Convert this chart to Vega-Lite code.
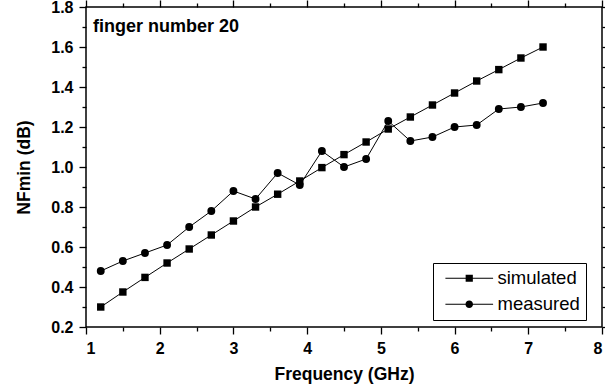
{
  "$schema": "https://vega.github.io/schema/vega-lite/v6.json",
  "width": 516,
  "height": 320,
  "autosize": "none",
  "padding": {"left": 86, "top": 7, "right": 3, "bottom": 63},
  "background": "white",
  "title": {"text": "finger number 20", "anchor": "start", "frame": "group", "orient": "top", "baseline": "alphabetic", "font": "Liberation Sans", "fontWeight": "bold", "fontSize": 18, "color": "black", "offset": 0, "dx": 7, "dy": 51},
  "config": {
    "view": {"stroke": "black", "strokeWidth": 1.5},
    "font": "Liberation Sans",
    "axis": {
      "grid": false,
      "domain": false,
      "tickColor": "black",
      "tickWidth": 1.3,
      "labelFont": "Liberation Sans",
      "labelFontWeight": "bold",
      "labelFontSize": 16,
      "labelColor": "black",
      "labelPadding": 6,
      "titleFont": "Liberation Sans",
      "titleFontWeight": "bold",
      "titleFontSize": 17.5,
      "titleColor": "black"
    }
  },
  "data": {
    "values": [
      {"f": 1.2, "nf": 0.30, "series": "simulated"},
      {"f": 1.5, "nf": 0.375, "series": "simulated"},
      {"f": 1.8, "nf": 0.448, "series": "simulated"},
      {"f": 2.1, "nf": 0.52, "series": "simulated"},
      {"f": 2.4, "nf": 0.59, "series": "simulated"},
      {"f": 2.7, "nf": 0.66, "series": "simulated"},
      {"f": 3.0, "nf": 0.73, "series": "simulated"},
      {"f": 3.3, "nf": 0.80, "series": "simulated"},
      {"f": 3.6, "nf": 0.864, "series": "simulated"},
      {"f": 3.9, "nf": 0.93, "series": "simulated"},
      {"f": 4.2, "nf": 0.997, "series": "simulated"},
      {"f": 4.5, "nf": 1.062, "series": "simulated"},
      {"f": 4.8, "nf": 1.125, "series": "simulated"},
      {"f": 5.1, "nf": 1.19, "series": "simulated"},
      {"f": 5.4, "nf": 1.25, "series": "simulated"},
      {"f": 5.7, "nf": 1.31, "series": "simulated"},
      {"f": 6.0, "nf": 1.37, "series": "simulated"},
      {"f": 6.3, "nf": 1.43, "series": "simulated"},
      {"f": 6.6, "nf": 1.487, "series": "simulated"},
      {"f": 6.9, "nf": 1.545, "series": "simulated"},
      {"f": 7.2, "nf": 1.60, "series": "simulated"},
      {"f": 1.2, "nf": 0.48, "series": "measured"},
      {"f": 1.5, "nf": 0.53, "series": "measured"},
      {"f": 1.8, "nf": 0.57, "series": "measured"},
      {"f": 2.1, "nf": 0.61, "series": "measured"},
      {"f": 2.4, "nf": 0.70, "series": "measured"},
      {"f": 2.7, "nf": 0.78, "series": "measured"},
      {"f": 3.0, "nf": 0.88, "series": "measured"},
      {"f": 3.3, "nf": 0.84, "series": "measured"},
      {"f": 3.6, "nf": 0.97, "series": "measured"},
      {"f": 3.9, "nf": 0.91, "series": "measured"},
      {"f": 4.2, "nf": 1.08, "series": "measured"},
      {"f": 4.5, "nf": 1.00, "series": "measured"},
      {"f": 4.8, "nf": 1.04, "series": "measured"},
      {"f": 5.1, "nf": 1.23, "series": "measured"},
      {"f": 5.4, "nf": 1.13, "series": "measured"},
      {"f": 5.7, "nf": 1.15, "series": "measured"},
      {"f": 6.0, "nf": 1.20, "series": "measured"},
      {"f": 6.3, "nf": 1.21, "series": "measured"},
      {"f": 6.6, "nf": 1.29, "series": "measured"},
      {"f": 6.9, "nf": 1.30, "series": "measured"},
      {"f": 7.2, "nf": 1.32, "series": "measured"}
    ]
  },
  "layer": [
    {
      "mark": {"type": "line", "color": "black", "strokeWidth": 1},
      "encoding": {
        "x": {"field": "f", "type": "quantitative",
          "scale": {"domain": [1, 8], "nice": false, "zero": false},
          "axis": {"orient": "bottom", "values": [1,2,3,4,5,6,7,8], "format": "d", "tickSize": 7, "title": "Frequency (GHz)", "titleBaseline": "alphabetic", "titleY": 52}},
        "y": {"field": "nf", "type": "quantitative",
          "scale": {"domain": [0.2, 1.8], "nice": false, "zero": false},
          "axis": {"orient": "left", "values": [0.2,0.4,0.6,0.8,1.0,1.2,1.4,1.6,1.8], "format": ".1f", "tickSize": 7, "title": "NFmin (dB)", "titleBaseline": "middle", "titleX": -62, "titleY": 160}},
        "detail": {"field": "series", "type": "nominal"}
      }
    },
    {
      "mark": {"type": "point", "filled": true, "color": "black", "opacity": 1},
      "encoding": {
        "x": {"field": "f", "type": "quantitative",
          "scale": {"domain": [1, 8], "nice": false, "zero": false},
          "axis": {"orient": "bottom", "values": [1.5,2.5,3.5,4.5,5.5,6.5,7.5], "tickSize": 4, "labels": false, "title": null}},
        "y": {"field": "nf", "type": "quantitative",
          "scale": {"domain": [0.2, 1.8], "nice": false, "zero": false},
          "axis": {"orient": "left", "values": [0.3,0.5,0.7,0.9,1.1,1.3,1.5,1.7], "tickSize": 4, "labels": false, "title": null}},
        "shape": {"field": "series", "type": "nominal",
          "scale": {"domain": ["simulated", "measured"], "range": ["square", "circle"]},
          "legend": null},
        "size": {"field": "series", "type": "nominal",
          "scale": {"domain": ["simulated", "measured"], "range": [55, 62]},
          "legend": null}
      }
    },
    {
      "mark": {"type": "point", "filled": true, "color": "black", "opacity": 0},
      "encoding": {
        "x": {"field": "f", "type": "quantitative",
          "scale": {"domain": [1, 8], "nice": false, "zero": false},
          "axis": {"orient": "top", "values": [1,2,3,4,5,6,7,8], "tickSize": 7, "labels": false, "title": null}},
        "y": {"field": "nf", "type": "quantitative",
          "scale": {"domain": [0.2, 1.8], "nice": false, "zero": false},
          "axis": {"orient": "right", "values": [0.2,0.4,0.6,0.8,1.0,1.2,1.4,1.6,1.8], "tickSize": 7, "labels": false, "title": null}},
        "shape": {"field": "series", "type": "nominal",
          "scale": {"domain": ["simulated", "measured"],
            "range": ["M-2.65,-0.06H2.65V0.06H-2.65ZM-0.4,-0.4H0.4V0.4H-0.4Z", "M-2.65,-0.06H2.65V0.06H-2.65ZM0.42,0A0.42,0.42,0,1,1,-0.42,0A0.42,0.42,0,1,1,0.42,0Z"]},
          "legend": {
            "title": null,
            "orient": "none",
            "legendX": 347,
            "legendY": 256,
            "padding": 6,
            "strokeColor": "black",
            "fillColor": "white",
            "labelFont": "Liberation Sans",
            "labelFontSize": 18.5,
            "labelColor": "black",
            "labelFontWeight": "normal",
            "labelExpr": "datum.label + '  '",
            "symbolSize": 324,
            "symbolOpacity": 1,
            "symbolFillColor": "black",
            "symbolStrokeColor": "black",
            "symbolStrokeWidth": 0,
            "symbolOffset": 21,
            "labelOffset": 19,
            "rowPadding": 7
          }}
      }
    },
    {
      "mark": {"type": "point", "opacity": 0},
      "encoding": {
        "x": {"field": "f", "type": "quantitative",
          "scale": {"domain": [1, 8], "nice": false, "zero": false},
          "axis": {"orient": "top", "values": [1.5,2.5,3.5,4.5,5.5,6.5,7.5], "tickSize": 4, "labels": false, "title": null}},
        "y": {"field": "nf", "type": "quantitative",
          "scale": {"domain": [0.2, 1.8], "nice": false, "zero": false},
          "axis": {"orient": "right", "values": [0.3,0.5,0.7,0.9,1.1,1.3,1.5,1.7], "tickSize": 4, "labels": false, "title": null}}
      }
    }
  ],
  "resolve": {
    "axis": {"x": "independent", "y": "independent"},
    "scale": {"shape": "independent", "size": "independent"}
  }
}
